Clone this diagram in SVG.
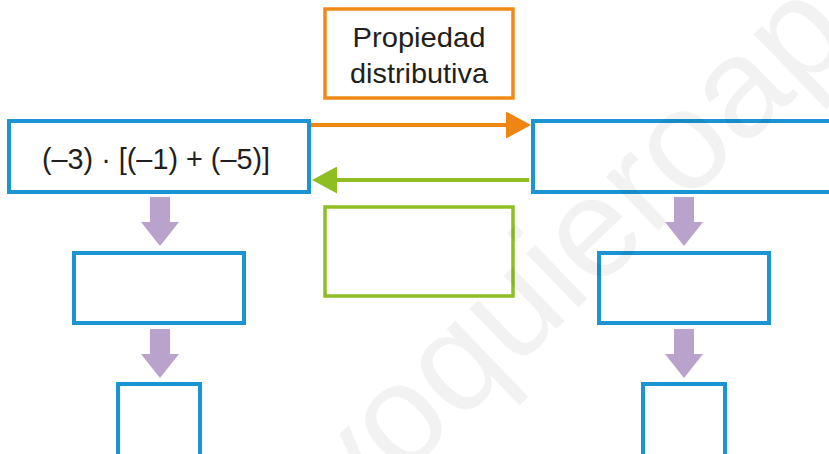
<svg xmlns="http://www.w3.org/2000/svg" width="829" height="454" viewBox="0 0 829 454">
  <style>
    .blue { fill: #ffffff; stroke: #1a94d2; stroke-width: 4; }
    .orange { fill: #ffffff; stroke: #ef8a17; stroke-width: 3.5; }
    .green { fill: #ffffff; stroke: #8fbe22; stroke-width: 3.5; }
    .lbl { font-family: "Liberation Sans", Arial, sans-serif; fill: #231f20; text-anchor: middle; }
    .down { fill: #b9a2cc; }
    .wm { font-family: "Liberation Sans", Arial, sans-serif; font-size: 142px; fill: #000000; fill-opacity: 0.05; }
  </style>
  <defs>
    <marker id="headO" viewBox="0 0 25 27" refX="0" refY="13.5" markerWidth="25" markerHeight="27" markerUnits="userSpaceOnUse" orient="auto">
      <path d="M0,0 L25,13.5 L0,27 Z" fill="#ef8512"/>
    </marker>
    <marker id="headG" viewBox="0 0 25 27" refX="0" refY="13.5" markerWidth="25" markerHeight="27" markerUnits="userSpaceOnUse" orient="auto">
      <path d="M0,0 L25,13.5 L0,27 Z" fill="#8fbe22"/>
    </marker>
    <path id="downArrow" d="M-10,0 H10 V25 H19 L0,49 L-19,25 H-10 Z"/>
  </defs>
  <rect width="829" height="454" fill="#ffffff"/>

  <g id="node-start">
    <rect class="blue" x="9" y="121" width="300" height="71"/>
    <text class="lbl" x="156" y="169" font-size="30" textLength="228" lengthAdjust="spacingAndGlyphs">(–3) · [(–1) + (–5)]</text>
  </g>
  <g id="node-property">
    <rect class="orange" x="325" y="9" width="188" height="89"/>
    <text class="lbl" x="419" y="47" font-size="28" textLength="133" lengthAdjust="spacingAndGlyphs">Propiedad</text>
    <text class="lbl" x="419" y="83" font-size="28" textLength="138" lengthAdjust="spacingAndGlyphs">distributiva</text>
  </g>
  <g id="node-right-top">
    <rect class="blue" x="533" y="121" width="320" height="71"/>
  </g>
  <g id="node-green">
    <rect class="green" x="325" y="207" width="188" height="89"/>
  </g>
  <g id="node-left-mid">
    <rect class="blue" x="74" y="253" width="170" height="70"/>
  </g>
  <g id="node-right-mid">
    <rect class="blue" x="599" y="253" width="170" height="70"/>
  </g>
  <g id="node-left-bottom">
    <rect class="blue" x="118" y="384" width="82" height="100"/>
  </g>
  <g id="node-right-bottom">
    <rect class="blue" x="643" y="384" width="82" height="100"/>
  </g>

  <g id="connectors">
    <path d="M311,125 H506" stroke="#ef8512" stroke-width="4" fill="none" marker-end="url(#headO)"/>
    <path d="M529,180 H337" stroke="#8fbe22" stroke-width="4" fill="none" marker-end="url(#headG)"/>
    <use href="#downArrow" class="down" transform="translate(160,197)"/>
    <use href="#downArrow" class="down" transform="translate(160,329)"/>
    <use href="#downArrow" class="down" transform="translate(684,197)"/>
    <use href="#downArrow" class="down" transform="translate(684,329)"/>
  </g>

  <text class="wm" x="350" y="528" transform="rotate(-44 350 528)">yoquieroaprobar</text>
</svg>
